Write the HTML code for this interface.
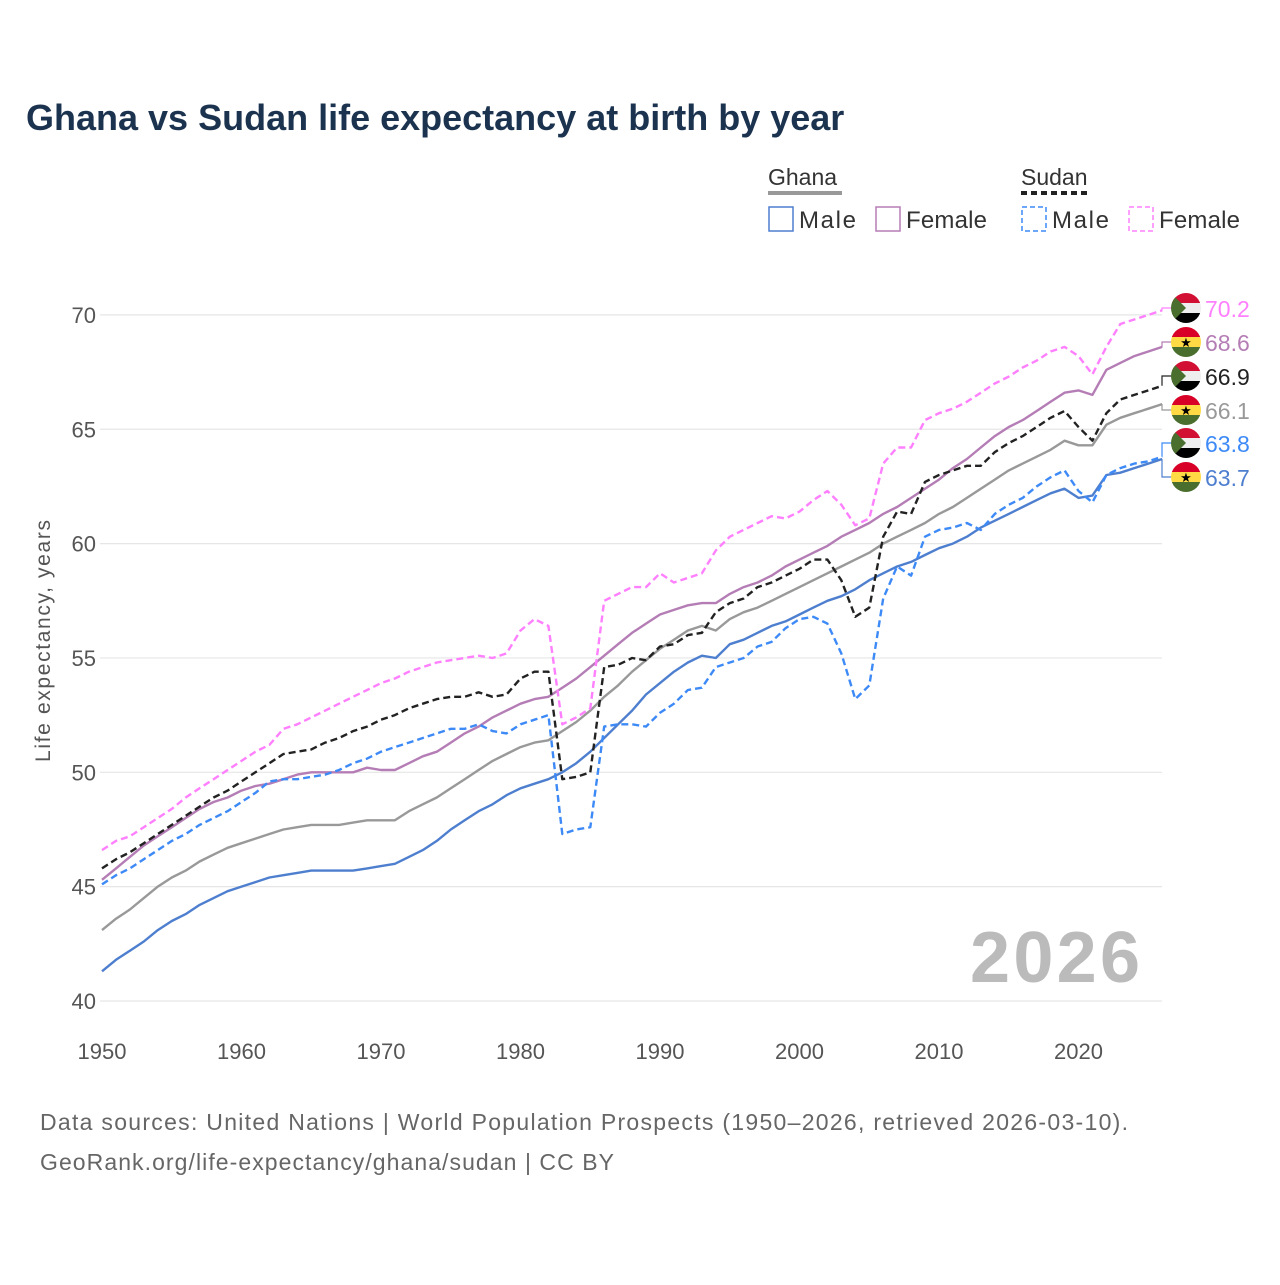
<!DOCTYPE html>
<html><head><meta charset="utf-8"><style>
body{margin:0;background:#fff;font-family:"Liberation Sans",sans-serif}
svg text{font-family:"Liberation Sans",sans-serif}
</style></head><body>
<svg id="chart" width="1280" height="1280" viewBox="0 0 1280 1280">
<text x="26" y="130" font-size="36" font-weight="bold" fill="#1c3350">Ghana vs Sudan life expectancy at birth by year</text>
<g>
<text x="768" y="185" font-size="23" fill="#333">Ghana</text>
<line x1="768" y1="193" x2="842" y2="193" stroke="#999" stroke-width="4"/>
<text x="1021" y="185" font-size="23" fill="#333">Sudan</text>
<line x1="1021" y1="193" x2="1090" y2="193" stroke="#222" stroke-width="4" stroke-dasharray="6,4"/>
<g><rect x="769" y="207" width="24" height="24" fill="none" stroke="#4e7fcf" stroke-width="1.5"/><text x="799" y="228" font-size="24" fill="#333" textLength="57">Male</text></g>
<g><rect x="876" y="207" width="24" height="24" fill="none" stroke="#b57db5" stroke-width="1.5"/><text x="906" y="228" font-size="24" fill="#333" textLength="81">Female</text></g>
<g><rect x="1022" y="207" width="24" height="24" fill="none" stroke="#3d8af7" stroke-width="1.5" stroke-dasharray="5,3"/><text x="1052" y="228" font-size="24" fill="#333" textLength="57">Male</text></g>
<g><rect x="1129" y="207" width="24" height="24" fill="none" stroke="#ff80ff" stroke-width="1.5" stroke-dasharray="5,3"/><text x="1159" y="228" font-size="24" fill="#333" textLength="81">Female</text></g>
</g>
<g id="grid"></g><g id="xaxis"></g><g id="lines"></g><g id="ends"></g>
<text x="1140" y="982" font-size="72" font-weight="bold" fill="#bbb" text-anchor="end" textLength="170">2026</text>
<text transform="translate(50,641) rotate(-90)" font-size="21" fill="#555" text-anchor="middle" textLength="242">Life expectancy, years</text>
<text x="40" y="1130" font-size="23" fill="#666" textLength="1088">Data sources: United Nations | World Population Prospects (1950–2026, retrieved 2026-03-10).</text>
<text x="40" y="1170" font-size="23" fill="#666" textLength="574">GeoRank.org/life-expectancy/ghana/sudan | CC BY</text>
</svg>
<script>
const startYear = 1950;
const yTicks = [40,45,50,55,60,65,70];
const xTicks = [1950,1960,1970,1980,1990,2000,2010,2020];
const ghanaMale = [41.3,41.8,42.2,42.6,43.1,43.5,43.8,44.2,44.5,44.8,45.0,45.2,45.4,45.5,45.6,45.7,45.7,45.7,45.7,45.8,45.9,46.0,46.3,46.6,47.0,47.5,47.9,48.3,48.6,49.0,49.3,49.5,49.7,50.0,50.4,50.9,51.5,52.1,52.7,53.4,53.9,54.4,54.8,55.1,55.0,55.6,55.8,56.1,56.4,56.6,56.9,57.2,57.5,57.7,58.0,58.4,58.7,59.0,59.2,59.5,59.8,60.0,60.3,60.7,61.0,61.3,61.6,61.9,62.2,62.4,62.0,62.1,63.0,63.1,63.3,63.5,63.7];
const ghanaTotal = [43.1,43.6,44.0,44.5,45.0,45.4,45.7,46.1,46.4,46.7,46.9,47.1,47.3,47.5,47.6,47.7,47.7,47.7,47.8,47.9,47.9,47.9,48.3,48.6,48.9,49.3,49.7,50.1,50.5,50.8,51.1,51.3,51.4,51.8,52.2,52.7,53.3,53.8,54.4,54.9,55.4,55.8,56.2,56.4,56.2,56.7,57.0,57.2,57.5,57.8,58.1,58.4,58.7,59.0,59.3,59.6,60.0,60.3,60.6,60.9,61.3,61.6,62.0,62.4,62.8,63.2,63.5,63.8,64.1,64.5,64.3,64.3,65.2,65.5,65.7,65.9,66.1];
const ghanaFemale = [45.3,45.8,46.3,46.8,47.2,47.6,48.0,48.4,48.7,48.9,49.2,49.4,49.5,49.7,49.9,50.0,50.0,50.0,50.0,50.2,50.1,50.1,50.4,50.7,50.9,51.3,51.7,52.0,52.4,52.7,53.0,53.2,53.3,53.7,54.1,54.6,55.1,55.6,56.1,56.5,56.9,57.1,57.3,57.4,57.4,57.8,58.1,58.3,58.6,59.0,59.3,59.6,59.9,60.3,60.6,60.9,61.3,61.6,62.0,62.4,62.8,63.3,63.7,64.2,64.7,65.1,65.4,65.8,66.2,66.6,66.7,66.5,67.6,67.9,68.2,68.4,68.6];
const sudanTotal = [45.8,46.2,46.5,46.9,47.3,47.7,48.1,48.5,48.9,49.2,49.6,50.0,50.4,50.8,50.9,51.0,51.3,51.5,51.8,52.0,52.3,52.5,52.8,53.0,53.2,53.3,53.3,53.5,53.3,53.4,54.1,54.4,54.4,49.7,49.8,50.0,54.6,54.7,55.0,54.9,55.5,55.6,56.0,56.1,57.0,57.4,57.6,58.1,58.3,58.6,58.9,59.3,59.3,58.4,56.8,57.2,60.3,61.4,61.3,62.7,63.0,63.2,63.4,63.4,64.0,64.4,64.7,65.1,65.5,65.8,65.1,64.5,65.7,66.3,66.5,66.7,66.9];
const sudanMale = [45.1,45.5,45.8,46.2,46.6,47.0,47.3,47.7,48.0,48.3,48.7,49.1,49.6,49.7,49.7,49.8,49.9,50.1,50.4,50.6,50.9,51.1,51.3,51.5,51.7,51.9,51.9,52.1,51.8,51.7,52.1,52.3,52.5,47.3,47.5,47.6,52.0,52.1,52.1,52.0,52.6,53.0,53.6,53.7,54.6,54.8,55.0,55.5,55.7,56.3,56.7,56.8,56.5,55.2,53.2,53.8,57.6,59.0,58.6,60.3,60.6,60.7,60.9,60.6,61.3,61.7,62.0,62.5,62.9,63.2,62.3,61.8,63.0,63.3,63.5,63.6,63.8];
const sudanFemale = [46.6,47.0,47.2,47.6,48.0,48.4,48.9,49.3,49.7,50.1,50.5,50.9,51.2,51.9,52.1,52.4,52.7,53.0,53.3,53.6,53.9,54.1,54.4,54.6,54.8,54.9,55.0,55.1,55.0,55.2,56.2,56.7,56.4,52.1,52.4,52.8,57.5,57.8,58.1,58.1,58.7,58.3,58.5,58.7,59.7,60.3,60.6,60.9,61.2,61.1,61.4,61.9,62.3,61.7,60.8,61.1,63.5,64.2,64.2,65.4,65.7,65.9,66.2,66.6,67.0,67.3,67.7,68.0,68.4,68.6,68.2,67.4,68.6,69.6,69.8,70.0,70.2];

const NS='http://www.w3.org/2000/svg';
const X=y=>102+(y-startYear)*13.95;
const Y=v=>1001-(v-40)*22.87;
function mk(t,a,p){const e=document.createElementNS(NS,t);for(const k in a)e.setAttribute(k,a[k]);p.appendChild(e);return e;}
const grid=document.getElementById('grid'),xa=document.getElementById('xaxis'),lines=document.getElementById('lines'),ends=document.getElementById('ends');
yTicks.forEach(v=>{
  const l=mk('line',{x1:100,x2:1162,y1:Y(v),y2:Y(v),stroke:'#e6e6e6','stroke-width':1.2},grid);
  
  
  const t=mk('text',{x:96,y:Y(v)+8,'font-size':22,fill:'#555','text-anchor':'end'},grid);
  t.textContent=v;
  
  
});
xTicks.forEach(v=>{
  const t=mk('text',{x:X(v),y:1059,'font-size':22,fill:'#555','text-anchor':'middle'},xa);
  t.textContent=v;
  
  
});
const series=[
 {d:ghanaTotal,c:'#999',dash:null,n:'ghana-total'},
 {d:ghanaMale,c:'#4e7fcf',dash:null,n:'ghana-male'},
 {d:ghanaFemale,c:'#b57db5',dash:null,n:'ghana-female'},
 {d:sudanMale,c:'#3d8af7',dash:'7,4',n:'sudan-male'},
 {d:sudanFemale,c:'#ff80ff',dash:'7,4',n:'sudan-female'},
 {d:sudanTotal,c:'#222',dash:'7,4',n:'sudan-total'}];
series.forEach(s=>{
  const pts=s.d.map((v,i)=>X(startYear+i).toFixed(1)+','+Y(v).toFixed(1)).join(' ');
  const a={points:pts,fill:'none',stroke:s.c,'stroke-width':2.4,'stroke-linejoin':'round'};
  if(s.dash)a['stroke-dasharray']=s.dash;
  const p=mk('polyline',a,lines);
  
  
});
const labels=[
 {d:sudanFemale,c:'#ff80ff',f:'sudan',y:308,n:'sudan-female'},
 {d:ghanaFemale,c:'#b57db5',f:'ghana',y:342,n:'ghana-female'},
 {d:sudanTotal,c:'#222',f:'sudan',y:376,n:'sudan-total'},
 {d:ghanaTotal,c:'#999',f:'ghana',y:410,n:'ghana-total'},
 {d:sudanMale,c:'#3d8af7',f:'sudan',y:443,n:'sudan-male'},
 {d:ghanaMale,c:'#4e7fcf',f:'ghana',y:477,n:'ghana-male'}];
let cid=0;
labels.forEach(L=>{
  const v=L.d[L.d.length-1],ey=Y(v);
  const g=mk('g',{},ends);
  
  
  mk('polyline',{points:`1162,${ey} 1162,${L.y} 1172,${L.y}`,fill:'none',stroke:L.c,'stroke-width':1.2},g);
  const id='c'+(cid++);
  const cp=mk('clipPath',{id},g);mk('circle',{cx:1186,cy:L.y,r:15},cp);
  const fg=mk('g',{'clip-path':`url(#${id})`},g);
  if(L.f==='sudan'){
    mk('rect',{x:1171,y:L.y-15,width:30,height:10,fill:'#d21034'},fg);
    mk('rect',{x:1171,y:L.y-5,width:30,height:10,fill:'#eee'},fg);
    mk('rect',{x:1171,y:L.y+5,width:30,height:10,fill:'#000'},fg);
    mk('polygon',{points:`1171,${L.y-15} 1186,${L.y} 1171,${L.y+15}`,fill:'#496e2d'},fg);
  }else{
    mk('rect',{x:1171,y:L.y-15,width:30,height:10,fill:'#d80027'},fg);
    mk('rect',{x:1171,y:L.y-5,width:30,height:10,fill:'#ffda44'},fg);
    mk('rect',{x:1171,y:L.y+5,width:30,height:10,fill:'#496e2d'},fg);
    const st=mk('text',{x:1186,y:L.y+5,'font-size':13,'text-anchor':'middle',fill:'#000'},fg);st.textContent='★';
  }
  const t=mk('text',{x:1205,y:L.y+9,'font-size':23,fill:L.c},g);
  t.textContent=v.toFixed(1);
});
</script>
</body></html>
